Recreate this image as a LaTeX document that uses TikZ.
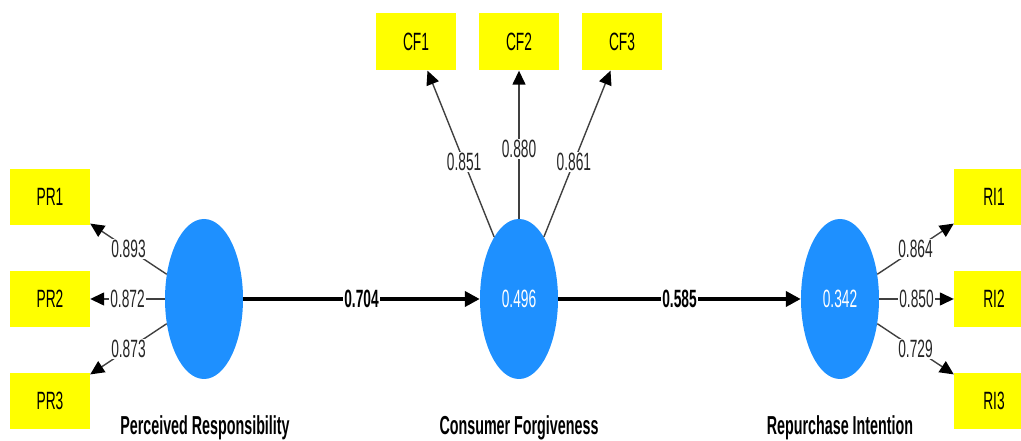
\documentclass[tikz,border=0pt]{standalone}
\usepackage{fontspec}
\setmainfont{Liberation Sans}[FakeStretch=0.55]
\usetikzlibrary{arrows.meta,shapes.geometric}
\definecolor{lvblue}{RGB}{30,144,255}
\definecolor{mvyellow}{RGB}{255,255,0}
\begin{document}
\begin{tikzpicture}[x=1pt, y=1pt, every node/.style={font=\fontsize{25}{29}\selectfont},
  ind/.style={fill=mvyellow, minimum width=80pt, minimum height=56pt, inner sep=0pt},
  lv/.style={ellipse, fill=lvblue, minimum width=78pt, minimum height=160pt, inner sep=0pt, text=white},
  lvname/.style={font=\fontsize{26}{30}\selectfont\bfseries},
  load/.style={draw=black!75, line width=1.4pt, -{Triangle[length=14pt,width=13pt,color=black]}},
  struct/.style={draw=black, line width=4pt, -{Triangle[length=15pt,width=15pt]}},
  wt/.style={fill=white, inner sep=1pt, text=black!85},
  wtb/.style={wt, text=black, font=\fontsize{25}{29}\selectfont\bfseries}]
\useasboundingbox (0,0) rectangle (1021,441);
% Indicators
\node[ind] (PR1) at (50,244) {PR1};
\node[ind] (PR2) at (50,142) {PR2};
\node[ind] (PR3) at (50,40) {PR3};
\node[ind, minimum height=57pt] (CF1) at (416,399) {CF1};
\node[ind, minimum height=57pt] (CF2) at (519,399) {CF2};
\node[ind, minimum height=57pt] (CF3) at (622,399) {CF3};
\node[ind] (RI1) at (994,244) {RI1};
\node[ind] (RI2) at (994,142) {RI2};
\node[ind] (RI3) at (994,40) {RI3};
% Latent variables
\node[lv] (PR) at (204,142) {};
\node[lv] (CF) at (519,142) {0.496};
\node[lv] (RI) at (840,142) {0.342};
\node[lvname] (PRname) at (205,13) {Perceived Responsibility};
\node[lvname] (CFname) at (519,13) {Consumer Forgiveness};
\node[lvname] (RIname) at (840,13) {Repurchase Intention};
% Outer loadings
\draw[load] (PR) -- node[wt] {0.893} (PR1);
\draw[load] (PR) -- node[wt] {0.872} (PR2);
\draw[load] (PR) -- node[wt] {0.873} (PR3);
\draw[load] (CF) -- node[wt, pos=0.45] {0.851} (CF1);
\draw[load] (CF) -- node[wt, pos=0.47] {0.880} (CF2);
\draw[load] (CF) -- node[wt, pos=0.45] {0.861} (CF3);
\draw[load] (RI) -- node[wt] {0.864} (RI1);
\draw[load] (RI) -- node[wt] {0.850} (RI2);
\draw[load] (RI) -- node[wt] {0.729} (RI3);
% Path coefficients
\draw[struct] (PR) -- node[wtb] {0.704} (CF);
\draw[struct] (CF) -- node[wtb] {0.585} (RI);
\end{tikzpicture}
\end{document}
